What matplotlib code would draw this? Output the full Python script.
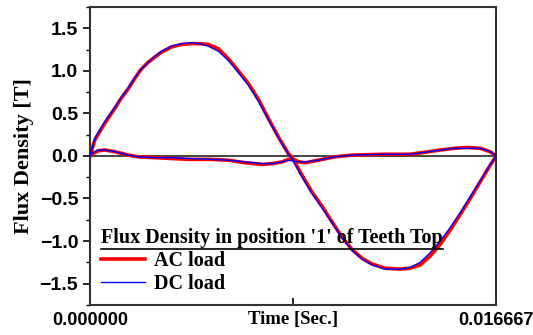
import numpy as np
import matplotlib
matplotlib.use('Agg')
import matplotlib.pyplot as plt
from matplotlib.lines import Line2D

T = 0.016667

# time as fraction of one period
t_main = [0.000, 0.012, 0.028, 0.044, 0.061, 0.077, 0.094, 0.110, 0.126, 0.143,
          0.159, 0.176, 0.200, 0.225, 0.250, 0.271, 0.291, 0.316, 0.341, 0.365,
          0.390, 0.415, 0.439, 0.464, 0.488, 0.498, 0.521, 0.546, 0.571, 0.595,
          0.620, 0.645, 0.669, 0.694, 0.727, 0.764, 0.788, 0.813, 0.837, 0.862,
          0.887, 0.911, 0.936, 0.961, 0.985, 1.000]
ac_main = [0.00, 0.19, 0.32, 0.44, 0.56, 0.68, 0.79, 0.91, 1.02, 1.10,
           1.16, 1.22, 1.28, 1.31, 1.32, 1.32, 1.31, 1.26, 1.14, 1.00,
           0.85, 0.66, 0.44, 0.22, 0.03, -0.02, -0.22, -0.42, -0.59, -0.77,
           -0.95, -1.10, -1.20, -1.27, -1.32, -1.33, -1.32, -1.28, -1.18, -1.04,
           -0.87, -0.69, -0.50, -0.30, -0.11, 0.00]
dc_main = [0.00, 0.21, 0.34, 0.46, 0.57, 0.69, 0.80, 0.92, 1.02, 1.10,
           1.17, 1.23, 1.29, 1.32, 1.33, 1.32, 1.29, 1.23, 1.12, 0.98,
           0.83, 0.64, 0.43, 0.21, 0.02, -0.04, -0.24, -0.44, -0.61, -0.78,
           -0.96, -1.11, -1.21, -1.28, -1.33, -1.33, -1.31, -1.25, -1.14, -1.00,
           -0.84, -0.67, -0.48, -0.29, -0.10, 0.00]

t_small = [0.000, 0.020, 0.036, 0.061, 0.094, 0.118, 0.159, 0.200, 0.241, 0.296,
           0.340, 0.382, 0.424, 0.448, 0.473, 0.488, 0.500, 0.515, 0.530, 0.562,
           0.603, 0.645, 0.727, 0.788, 0.820, 0.862, 0.899, 0.929, 0.961, 0.985,
           1.000]
ac_small = [0.01, 0.06, 0.07, 0.05, 0.01, -0.01, -0.02, -0.03, -0.04, -0.04,
            -0.05, -0.08, -0.10, -0.09, -0.07, -0.04, -0.04, -0.07, -0.08, -0.05,
            -0.01, 0.01, 0.02, 0.02, 0.04, 0.07, 0.09, 0.10, 0.09, 0.05,
            0.00]
dc_small = [0.02, 0.07, 0.07, 0.05, 0.01, -0.01, -0.02, -0.02, -0.03, -0.04,
            -0.05, -0.07, -0.09, -0.09, -0.07, -0.05, -0.06, -0.07, -0.07, -0.05,
            -0.01, 0.01, 0.02, 0.02, 0.04, 0.07, 0.09, 0.09, 0.09, 0.05,
            0.00]

serif = 'Liberation Serif'
sans = 'Liberation Sans'

fig = plt.figure(figsize=(5.33, 3.35), dpi=100)
ax = fig.add_axes([0.169, 0.09, 0.762, 0.889])

ax.axhline(0, color='#444444', lw=1.4, zorder=1)

tm = np.array(t_main) * T
ts = np.array(t_small) * T
ax.plot(tm, ac_main, color='#ff0000', lw=2.6, label='AC load', zorder=2)
ax.plot(ts, ac_small, color='#ff0000', lw=2.6, zorder=2)
ax.plot(tm, dc_main, color='#0000ff', lw=1.0, label='DC load', zorder=3)
ax.plot(ts, dc_small, color='#0000ff', lw=1.0, zorder=3)

ax.set_xlim(0, T)
ax.set_ylim(-1.75, 1.75)
ax.set_yticks([-1.5, -1.0, -0.5, 0.0, 0.5, 1.0, 1.5])
ax.set_yticks(np.arange(-1.75, 1.76, 0.25), minor=True)
ax.set_xticks([0, T / 2, T])
ax.set_xticklabels(['0.000000', '', '0.016667'])

ax.tick_params(axis='y', which='major', direction='out', length=5, width=1.2,
               labelsize=14)
ax.tick_params(axis='y', which='minor', direction='out', length=3, width=1.0)
ax.tick_params(axis='x', direction='in', length=5, width=1.2, labelsize=13, pad=5)
for lab in ax.get_xticklabels() + ax.get_yticklabels():
    lab.set_fontfamily(sans)
    lab.set_fontweight('bold')

for s in ax.spines.values():
    s.set_color('#333333')
    s.set_linewidth(1.5)

ax.set_ylabel('Flux Density [T]', fontfamily=serif, fontweight='bold', fontsize=16)
ax.set_xlabel('Time [Sec.]', fontfamily=serif, fontweight='bold', fontsize=13.5)
ax.xaxis.set_label_coords(0.5, -0.022, transform=ax.transAxes)
ax.xaxis.label.set_va('top')

leg = ax.legend(loc='lower left', frameon=False,
                title="Flux Density in position '1' of Teeth Top",
                prop={'family': serif, 'weight': 'bold', 'size': 14.5},
                handlelength=2.2, handletextpad=0.4, borderaxespad=0.15,
                labelspacing=0.15, alignment='left')
leg.get_title().set_fontfamily(serif)
leg.get_title().set_fontweight('bold')
leg.get_title().set_fontsize(14.5)

# underline the legend title
fig.canvas.draw()
bb = leg.get_title().get_window_extent().transformed(fig.transFigure.inverted())
fig.add_artist(Line2D([bb.x0, bb.x1], [bb.y0 - 0.004, bb.y0 - 0.004],
                      color='black', lw=1.2, transform=fig.transFigure))

fig.savefig('out.png', dpi=100)
